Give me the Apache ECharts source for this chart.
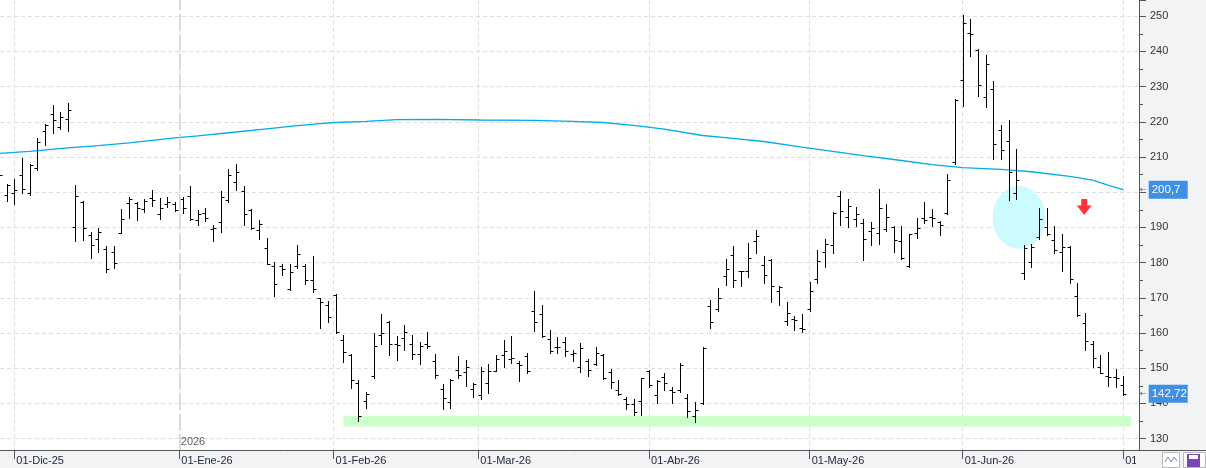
<!DOCTYPE html>
<html>
<head>
<meta charset="utf-8">
<title>OHLC</title>
<script src="https://cdn.jsdelivr.net/npm/echarts@6.0.0/dist/echarts.min.js"></script>
<style>
    html, body { margin: 0; padding: 0; background: #f2f3f5; }
    #chart { width: 1206px; height: 468px; }
</style>
</head>
<body>
<div id="chart"></div>
<script>
    // daily bars, index 0 = 26-Nov-25 ... 147 = 01-Jul-26
    var opens = [204.0, 199.3, 199.9, 205.0, 199.9, 206.9, 217.5, 222.1, 218.6, 220.9,
        190.0, 197.2, 187.8, 186.7, 183.8, 183.1, 188.5, 196.8, 196.8, 195.1,
        198.4, 193.8, 196.6, 196.6, 198.2, 198.9, 192.2, 194.2, 189.4, 191.5,
        197.9, 202.9, 200.4, 194.9, 189.2, 184.1, 179.0, 179.0, 172.6, 179.0,
        179.0, 175.0, 169.8, 167.9, 170.9, 158.0, 153.7, 145.9, 140.6, 147.7,
        159.3, 163.2, 156.8, 158.7, 156.8, 153.9, 156.9, 152.0, 144.0, 140.4,
        149.6, 149.0, 144.0, 142.3, 145.8, 149.1, 153.7, 152.6, 151.6, 153.4,
        166.3, 165.5, 158.4, 156.1, 157.5, 153.9, 150.2, 152.1, 151.1, 153.7,
        148.9, 143.7, 141.1, 139.8, 140.7, 149.2, 142.3, 147.4, 143.9, 143.8,
        141.4, 136.4, 140.0, 167.7, 166.8, 176.1, 182.1, 177.6, 177.6, 186.1,
        179.3, 180.7, 172.0, 163.4, 163.9, 161.3, 166.9, 175.2, 182.9, 185.0,
        199.0, 193.0, 192.3, 191.3, 189.0, 188.3, 189.4, 190.2, 186.2, 179.1,
        188.5, 192.6, 193.0, 191.6, 194.2, 208.6, 232.0, 245.1, 240.5, 226.9,
        229.4, 217.8, 214.5, 199.9, 176.9, 180.2, 187.3, 190.1, 186.4, 182.9,
        184.5, 170.6, 162.9, 157.0, 150.4, 147.8, 147.5, 145.2];
    var highs = [206.0, 202.3, 203.7, 209.8, 207.9, 215.4, 219.4, 224.7, 222.8, 225.2,
        202.0, 197.4, 188.6, 189.9, 184.8, 184.8, 195.2, 198.7, 197.1, 198.2,
        200.6, 198.4, 198.6, 197.3, 198.7, 201.8, 194.9, 195.6, 190.8, 200.3,
        206.5, 207.9, 201.7, 195.2, 192.0, 187.1, 180.2, 179.7, 179.7, 185.1,
        179.7, 181.8, 170.0, 169.0, 171.2, 159.4, 153.9, 146.6, 143.3, 160.0,
        165.4, 163.5, 159.2, 162.2, 159.4, 157.5, 160.3, 153.9, 145.6, 146.9,
        153.4, 152.3, 145.9, 150.4, 151.1, 153.7, 157.9, 159.2, 152.0, 154.4,
        171.9, 167.9, 160.8, 158.9, 158.9, 155.1, 157.2, 152.7, 155.9, 153.9,
        149.9, 146.6, 141.7, 141.1, 147.3, 149.6, 146.6, 148.5, 144.7, 151.5,
        142.6, 140.3, 155.9, 169.3, 172.8, 181.0, 184.7, 177.6, 185.6, 189.2,
        181.8, 180.9, 173.3, 168.7, 164.9, 165.4, 174.5, 183.5, 186.6, 194.4,
        200.3, 198.0, 195.8, 192.5, 191.6, 200.8, 196.6, 190.3, 190.3, 188.2,
        192.8, 197.2, 195.2, 191.9, 205.1, 226.4, 250.3, 249.1, 240.6, 238.9,
        231.5, 219.0, 220.4, 212.4, 184.9, 185.4, 195.4, 195.4, 190.3, 188.0,
        184.7, 174.3, 165.8, 157.7, 153.7, 154.6, 149.9, 147.7];
    var lows = [203.0, 197.5, 196.6, 199.8, 199.3, 206.3, 213.4, 216.9, 218.0, 217.4,
        186.2, 186.4, 181.3, 183.1, 177.2, 178.5, 188.3, 192.7, 192.2, 194.4,
        196.0, 192.4, 195.7, 194.6, 194.2, 192.2, 190.7, 191.8, 186.2, 188.7,
        197.3, 200.7, 190.8, 189.4, 186.6, 179.5, 170.6, 176.6, 172.2, 178.5,
        173.8, 171.7, 161.5, 163.2, 159.9, 151.8, 144.4, 135.0, 138.7, 147.1,
        156.8, 153.7, 152.4, 155.1, 152.6, 151.2, 155.8, 147.3, 138.5, 138.7,
        147.3, 145.0, 141.9, 141.1, 143.0, 149.1, 150.2, 151.6, 146.4, 148.5,
        160.6, 158.9, 154.2, 154.4, 153.5, 152.0, 148.8, 147.8, 150.9, 146.9,
        144.5, 142.5, 138.3, 136.8, 136.8, 144.7, 140.2, 143.9, 140.0, 143.1,
        136.0, 134.6, 139.7, 161.5, 166.2, 173.6, 173.1, 173.4, 175.9, 182.8,
        174.1, 168.8, 167.9, 162.2, 160.8, 160.3, 166.3, 174.2, 178.8, 182.6,
        190.6, 190.2, 190.4, 180.7, 184.9, 185.2, 188.9, 183.0, 180.9, 178.8,
        187.0, 191.3, 190.4, 187.8, 193.9, 207.9, 224.4, 238.7, 227.4, 224.1,
        209.3, 209.3, 197.9, 198.2, 175.2, 178.8, 186.8, 187.8, 182.6, 177.6,
        174.2, 164.8, 155.3, 150.4, 148.5, 145.0, 144.7, 142.5];
    var closes = [205.0, 202.0, 200.5, 201.0, 207.7, 214.3, 219.0, 220.5, 221.4, 223.3,
        198.9, 189.7, 184.9, 188.7, 178.3, 180.0, 192.3, 198.2, 195.4, 197.5,
        197.9, 195.4, 197.1, 194.8, 195.6, 192.5, 193.9, 192.7, 189.7, 198.7,
        204.8, 205.6, 193.8, 189.9, 191.1, 179.7, 173.8, 178.1, 177.2, 182.3,
        175.0, 172.6, 168.9, 164.6, 160.2, 154.6, 146.6, 136.5, 142.8, 156.4,
        159.9, 156.8, 156.5, 160.2, 153.9, 156.3, 156.4, 148.0, 141.4, 146.6,
        148.0, 150.4, 145.4, 149.1, 149.1, 152.5, 154.8, 153.0, 151.0, 149.2,
        163.0, 159.1, 154.9, 155.9, 154.9, 154.4, 155.6, 149.6, 154.4, 147.1,
        146.1, 142.8, 139.8, 137.6, 147.1, 145.2, 146.4, 145.8, 143.1, 150.9,
        137.9, 138.1, 155.6, 163.0, 170.0, 178.3, 175.0, 177.5, 181.2, 187.5,
        176.4, 173.3, 173.1, 165.8, 163.6, 161.1, 171.9, 180.4, 185.4, 194.1,
        194.6, 196.0, 193.9, 186.8, 189.7, 195.6, 193.0, 186.5, 181.3, 188.0,
        189.9, 192.0, 192.8, 190.8, 203.6, 226.1, 248.2, 244.9, 230.4, 236.3,
        213.6, 211.9, 205.6, 203.4, 184.0, 184.3, 192.5, 188.2, 183.5, 184.3,
        175.2, 165.0, 157.7, 152.9, 148.7, 147.5, 147.2, 142.72];

    // moving average read at some bar indexes
    var maIdx = [0, 4, 9, 13, 17, 23, 26, 31, 35, 39, 42, 44, 48, 52, 57, 63, 70, 75, 79, 83,
        87, 92, 96, 100, 105, 109, 113, 118, 122, 126, 131, 135, 140, 143, 145, 147];
    var maVal = [211.0, 211.6, 212.6, 213.2, 214.0, 215.4, 216.0, 217.1, 218.0, 218.9,
        219.5, 219.8, 220.1, 220.6, 220.7, 220.5, 220.4, 220.1, 219.8, 219.0,
        217.9, 216.1, 215.3, 214.4, 212.8, 211.6, 210.4, 209.0, 207.8, 207.0,
        206.5, 205.8, 204.5, 203.4, 202.0, 200.7];

    // month marks on the time axis (bar index)
    var tickPos = [2, 23.57, 43.74, 62.67, 85, 106, 126, 147];
    var tickLabels = ['01-Dic-25', '01-Ene-26', '01-Feb-26', '01-Mar-26', '01-Abr-26', '01-May-26', '01-Jun-26', '01-Jul-26'];
    var yearPos = 23.57;
    var yearLabel = '2026';

    // drawing notes
    var supportBand = [45.02, 148.01, 133.4, 136.5];
    var circleAt = [133.37, 192.8];
    var arrowAt = [141.9, 195.8];

    var font = 'Liberation Sans, Arial, sans-serif';

    var ohlc = opens.map(function (o, i) {
        return [i, o, highs[i], lows[i], closes[i]];
    });

    function renderOhlc(params, api) {
        var x = api.value(0);
        var pO = api.coord([x, api.value(1)]);
        var pH = api.coord([x, api.value(2)]);
        var pL = api.coord([x, api.value(3)]);
        var pC = api.coord([x, api.value(4)]);
        var cx = Math.round(pO[0]) + 0.5;
        var yo = Math.round(pO[1]) + 0.5;
        var yc = Math.round(pC[1]) + 0.5;
        var st = {stroke: '#000', lineWidth: 1};
        return {
            type: 'group',
            children: [
                {type: 'line', shape: {x1: cx, y1: Math.round(pH[1]), x2: cx, y2: Math.round(pL[1]) + 1}, style: st},
                {type: 'line', shape: {x1: cx - 3, y1: yo, x2: cx, y2: yo}, style: st},
                {type: 'line', shape: {x1: cx, y1: yc, x2: cx + 3, y2: yc}, style: st}
            ]
        };
    }

    function tickText(v) {
        for (var i = 0; i < tickPos.length; i++) {
            if (Math.abs(tickPos[i] - v) < 0.01) return tickLabels[i];
        }
        return '';
    }

    function boxLabel(v) {
        return '{a|←}{b|' + String(v).replace('.', ',') + '}';
    }

    var rich = {
        a: {fontFamily: 'DejaVu Sans', fontSize: 8, color: '#666', padding: [0, 2, 0, 0]},
        b: {fontFamily: font, fontSize: 11.5, color: '#fff', backgroundColor: '#3f8fe4',
            width: 35, lineHeight: 13, padding: [3, 1, 3, 3]}
    };

    var dom = document.getElementById('chart');
    var myChart = echarts.init(dom, null, {renderer: 'canvas'});

    var option = {
        animation: false,
        backgroundColor: '#f2f3f5',
        grid: {
            left: 0,
            right: 67,
            top: 0,
            bottom: 18,
            show: true,
            backgroundColor: '#fff',
            borderWidth: 0
        },
        xAxis: {
            type: 'value',
            min: 0.13,
            max: 149.06,
            axisLine: {lineStyle: {color: '#555', width: 1}},
            axisTick: {show: true, customValues: tickPos, length: 9, lineStyle: {color: '#555'}},
            axisLabel: {
                customValues: tickPos,
                formatter: tickText,
                align: 'left',
                padding: [0, 0, 0, 2],
                margin: 5,
                color: '#222a3a',
                fontFamily: font,
                fontSize: 11
            },
            splitLine: {show: true, lineStyle: {color: '#dedede', type: [4, 3]}}
        },
        yAxis: {
            type: 'value',
            position: 'right',
            min: 126.75,
            max: 254.6,
            splitNumber: 13,
            minInterval: 10,
            maxInterval: 10,
            axisLine: {show: true, lineStyle: {color: '#555', width: 1}},
            axisTick: {show: true, length: 7, lineStyle: {color: '#555'}},
            minorTick: {show: true, splitNumber: 2, length: 4, lineStyle: {color: '#555'}},
            axisLabel: {
                margin: 11,
                color: '#333',
                fontFamily: font,
                fontSize: 11,
                showMinLabel: false,
                showMaxLabel: false
            },
            splitLine: {show: true, showMinLine: false, showMaxLine: false,
                lineStyle: {color: '#dedede', type: [4, 3]}}
        },
        series: [
            {
                // highlight circle + support band
                type: 'scatter',
                z: 1,
                silent: true,
                symbol: 'circle',
                symbolSize: [53, 63],
                itemStyle: {color: '#ccfbff', opacity: 1},
                data: [circleAt],
                markArea: {
                    silent: true,
                    itemStyle: {color: '#ccffcc'},
                    data: [[{xAxis: supportBand[0], yAxis: supportBand[2]}, {xAxis: supportBand[1], yAxis: supportBand[3]}]]
                }
            },
            {
                type: 'line',
                z: 2,
                silent: true,
                showSymbol: false,
                symbol: 'none',
                lineStyle: {color: '#00acec', width: 1.3},
                data: maIdx.map(function (k, i) { return [k, maVal[i]]; })
            },
            {
                // last values shown on the price axis
                type: 'line',
                z: 5,
                silent: true,
                symbol: 'none',
                data: [],
                markLine: {
                    silent: true,
                    symbol: 'none',
                    lineStyle: {color: 'rgba(0,0,0,0)', width: 1},
                    label: {show: true, position: 'end', distance: 1, rich: rich},
                    data: [
                        {yAxis: maVal[maVal.length - 1], label: {show: true, formatter: boxLabel(maVal[maVal.length - 1])}},
                        {yAxis: closes[closes.length - 1], label: {show: true, formatter: boxLabel(closes[closes.length - 1])}}
                    ]
                }
            },
            {
                type: 'line',
                z: 2,
                silent: true,
                symbol: 'none',
                data: [],
                markLine: {
                    silent: true,
                    symbol: 'none',
                    label: {show: false},
                    lineStyle: {color: '#d2d2d2', width: 1.5, type: [16, 4]},
                    data: [{xAxis: yearPos}]
                }
            },
            {
                type: 'custom',
                z: 3,
                silent: true,
                clip: true,
                renderItem: renderOhlc,
                encode: {x: 0, y: [1, 2, 3, 4]},
                data: ohlc
            },
            {
                type: 'scatter',
                z: 4,
                silent: true,
                symbol: 'path://M4.5,0L10.5,0L10.5,6.5L15,6.5L7.5,16L0,6.5L4.5,6.5Z',
                symbolSize: [15, 16],
                itemStyle: {color: '#ff0000'},
                data: [arrowAt]
            },
            {
                type: 'scatter',
                z: 4,
                silent: true,
                symbolSize: 0,
                label: {show: true, position: 'right', distance: 1.5, formatter: yearLabel,
                    color: '#333', fontFamily: font, fontSize: 11},
                data: [[yearPos, 129.0]]
            }
        ],
        graphic: [
            {type: 'rect', z: 100, shape: {x: 1136, y: 451, width: 70, height: 17}, style: {fill: '#f2f3f5'}},
            {type: 'line', z: 101, shape: {x1: 1136, y1: 450.5, x2: 1206, y2: 450.5}, style: {stroke: '#555', lineWidth: 1}},
            {type: 'rect', z: 101, shape: {x: 1162.5, y: 452.5, width: 17, height: 15}, style: {fill: '#fff', stroke: '#b9b9b9'}},
            {type: 'polyline', z: 102, shape: {points: [[1165, 462], [1168, 457], [1171, 462], [1174, 457], [1177, 461]]},
                style: {stroke: '#6a8fc0', fill: null, lineWidth: 1}},
            {type: 'rect', z: 101, shape: {x: 1183.5, y: 452.5, width: 22, height: 15}, style: {fill: '#fff', stroke: '#b9b9b9'}},
            {type: 'rect', z: 102, shape: {x: 1187, y: 454, width: 13, height: 13}, style: {fill: '#7b45b5'}},
            {type: 'rect', z: 103, shape: {x: 1189, y: 455, width: 9, height: 4}, style: {fill: '#fff'}}
        ]
    };

    if (option && typeof option === 'object') {
        myChart.setOption(option, true);
    }
</script>
</body>
</html>
